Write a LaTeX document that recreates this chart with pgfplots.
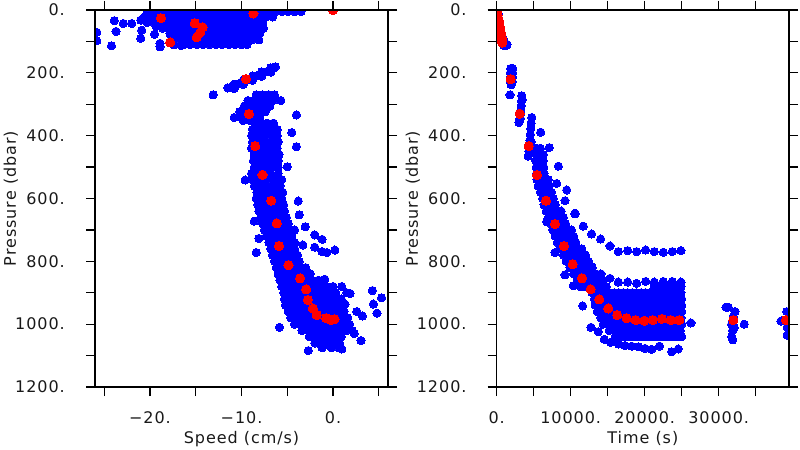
\documentclass[border=0pt]{standalone}
\usepackage{fontspec}
\setmainfont{DejaVu Sans}[LetterSpace=6]
\usepackage{pgfplots}
\pgfplotsset{compat=1.18}
\definecolor{pblue}{RGB}{0,0,255}
\definecolor{pred}{RGB}{255,0,0}
\pgfplotsset{
  panel/.style={
    scale only axis, width=293bp, height=377bp,
    ymin=0, ymax=1200, y dir=reverse,
    scaled x ticks=false, scaled y ticks=false,
    clip marker paths=true, axis on top,
    axis line style={line width=1.3bp, black},
    tick style={line width=1.3bp, black},
    tick align=outside, major tick length=9bp,
    xtick pos=both, ytick pos=both,
    ytick={0,100,...,1200},
    yticklabels={0.,,200.,,400.,,600.,,800.,,1000.,,1200.},
    tick label style={font=\fontsize{16bp}{19bp}\selectfont, text=black!90},
    label style={font=\fontsize{16bp}{19bp}\selectfont, text=black!90},
    xticklabel style={inner sep=0pt, anchor=north, yshift=-15bp},
    yticklabel style={inner sep=0pt, anchor=east, xshift=-21bp},
    ylabel={Pressure (dbar)},
    ylabel style={at={(axis description cs:-0.27,0.5)}, anchor=base},
    xlabel style={at={(axis description cs:0.5,-0.151)}, anchor=base},
  },
  bluedots/.style={only marks, color=pblue, mark=*, mark size=4.1bp, mark options={draw=pblue, fill=pblue, line width=0pt}},
  reddots/.style={only marks, color=pred, mark=*, mark size=4.6bp, mark options={draw=pred, fill=pred, line width=0pt}},
}
\begin{document}
\begin{tikzpicture}
\useasboundingbox (0bp,0bp) rectangle (800bp,450bp);
\begin{axis}[panel, at={(241.5bp,251.5bp)}, anchor=center,
  xmin=-26, xmax=6,
  xtick={-25,-20,...,5}, xticklabels={,−20.,,−10.,,0.,},
  xlabel={Speed (cm/s)}]
\addplot[bluedots] coordinates {
(-20.3,5)(-19.6,5)(-18.9,5)(-18.2,5)(-17.5,5)(-16.8,5)(-16.1,5)(-15.4,5)(-14.7,5)(-14,5)(-13.3,5)(-12.6,5)(-11.9,5)(-11.2,5)(-10.5,5)(-9.8,5)(-9.1,5)(-8.4,5)(-7.7,5)(-7,5)(-6.3,5)(-5.6,5)(-4.9,5)(-4.2,5)(-3.5,5)
(-20.6,22)(-19.9,22)(-19.2,22)(-18.5,22)(-17.8,22)(-17.1,22)(-16.4,22)(-15.7,22)(-15,22)(-14.3,22)(-13.6,22)(-12.9,22)(-12.2,22)(-11.5,22)(-10.8,22)(-10.1,22)(-9.4,22)(-8.7,22)(-8,22)(-7.3,22)(-6.6,22)
(-20.3,40)(-19.6,40)(-18.9,40)(-18.2,40)(-17.5,40)(-16.8,40)(-16.1,40)(-15.4,40)(-14.7,40)(-14,40)(-13.3,40)(-12.6,40)(-11.9,40)(-11.2,40)(-10.5,40)(-9.8,40)(-9.1,40)(-8.4,40)(-7.7,40)
(-18.6,58)(-17.9,58)(-17.2,58)(-16.5,58)(-15.8,58)(-15.1,58)(-14.4,58)(-13.7,58)(-13,58)(-12.3,58)(-11.6,58)(-10.9,58)(-10.2,58)(-9.5,58)(-8.8,58)(-8.1,58)(-7.6,58)
(-17.8,76)(-17.1,76)(-16.4,76)(-15.7,76)(-15,76)(-14.3,76)(-13.6,76)(-12.9,76)(-12.2,76)(-11.5,76)(-10.8,76)(-10.1,76)(-9.4,76)(-8.7,76)(-8.1,76)
(-17.2,94)(-16.5,94)(-15.8,94)(-15.1,94)(-14.4,94)(-13.7,94)(-13,94)(-12.3,94)(-11.6,94)(-10.9,94)(-10.2,94)(-9.5,94)(-8.8,94)
(-16.3,110)(-15.6,110)(-14.9,110)(-14.2,110)(-13.5,110)(-12.8,110)(-12.1,110)(-11.4,110)(-10.7,110)(-10,110)(-9.4,110)
(-25.8,71)(-25.8,98)(-24.2,114)(-23.9,34)(-23.7,68)(-22.9,43)(-22,43)(-21,32)(-20.9,64)(-21,90)(-19.5,77)(-18.9,106)(-18.9,117)(-17.4,111)(-16.6,113)(-8,74)(-8.1,95)(-19.3,52)
(-11.5,248)(-11,243)(-10.5,236)(-10,231)(-9.5,224)(-9,218)(-8.5,212)(-8,205)(-7.5,199)(-7,192)(-6.5,186)(-6.3,181)(-10.8,236)(-9.8,223)(-8.8,210)(-7.8,197)(-6.8,184)(-10.8,250)(-9.8,237)(-8.8,224)(-7.8,211)(-6.8,198)(-13.1,270)
(-8.4,270)(-7.7,270)(-7,270)(-6.4,270)(-9.3,288)(-8.6,288)(-7.9,288)(-7.2,288)(-6.5,288)(-9.7,306)(-9,306)(-8.3,306)(-7.6,306)(-6.9,306)(-10.2,324)(-9.5,324)(-8.8,324)(-8.1,324)(-7.4,324)(-10.8,342)(-10.1,342)(-9.4,342)(-8.7,342)(-8,342)(-9.8,352)(-9.1,352)(-5.7,288)(-4,334)
(-8.6,360)(-7.9,360)(-7.2,360)(-6.5,360)
(-8.8,380)(-8.1,380)(-7.4,380)(-6.7,380)(-6.1,380)
(-8.9,400)(-8.2,400)(-7.5,400)(-6.8,400)(-6.1,400)
(-8.8,420)(-8.1,420)(-7.4,420)(-6.7,420)(-6,420)
(-8.9,440)(-8.2,440)(-7.5,440)(-6.8,440)(-6.1,440)
(-8.6,460)(-7.9,460)(-7.2,460)(-6.5,460)(-5.9,460)
(-8.7,480)(-8,480)(-7.3,480)(-6.6,480)(-6,480)
(-8.6,500)(-7.9,500)(-7.2,500)(-6.5,500)(-6,500)
(-8.9,520)(-8.2,520)(-7.5,520)(-6.8,520)(-6,520)
(-8.8,540)(-8.1,540)(-7.4,540)(-6.7,540)(-6,540)(-5.6,540)
(-8.6,560)(-7.9,560)(-7.2,560)(-6.5,560)(-5.8,560)
(-8.3,580)(-7.6,580)(-6.9,580)(-6.2,580)(-5.5,580)
(-8.4,600)(-7.7,600)(-7,600)(-6.3,600)(-5.6,600)
(-8.2,620)(-7.5,620)(-6.8,620)(-6.1,620)(-5.4,620)
(-8.1,640)(-7.4,640)(-6.7,640)(-6,640)(-5.3,640)
(-7.9,660)(-7.2,660)(-6.5,660)(-5.8,660)(-5.1,660)
(-7.7,680)(-7,680)(-6.3,680)(-5.6,680)(-4.9,680)
(-7.5,700)(-6.8,700)(-6.1,700)(-5.4,700)(-4.7,700)(-4.2,700)
(-7.3,720)(-6.6,720)(-5.9,720)(-5.2,720)(-4.5,720)
(-7,740)(-6.3,740)(-5.6,740)(-4.9,740)(-4.2,740)
(-6.8,760)(-6.1,760)(-5.4,760)(-4.7,760)(-4.2,760)
(-6.6,780)(-5.9,780)(-5.2,780)(-4.5,780)(-3.9,780)
(-6.4,800)(-5.7,800)(-5,800)(-4.3,800)(-3.7,800)
(-6.2,820)(-5.5,820)(-4.8,820)(-4.1,820)(-3.4,820)(-3,820)
(-6,840)(-5.3,840)(-4.6,840)(-3.9,840)(-3.2,840)(-2.5,840)
(-5.8,860)(-5.1,860)(-4.4,860)(-3.7,860)(-3,860)(-2.3,860)(-1.6,860)(-1.1,860)
(-5.6,880)(-4.9,880)(-4.2,880)(-3.5,880)(-2.8,880)(-2.1,880)(-1.4,880)(-0.7,880)(0,880)
(-5.4,900)(-4.7,900)(-4,900)(-3.3,900)(-2.6,900)(-1.9,900)(-1.2,900)(-0.5,900)(0.3,900)
(-5.3,920)(-4.6,920)(-3.9,920)(-3.2,920)(-2.5,920)(-1.8,920)(-1.1,920)(-0.4,920)(0.3,920)(0.9,920)
(-5.2,940)(-4.5,940)(-3.8,940)(-3.1,940)(-2.4,940)(-1.7,940)(-1,940)(-0.3,940)(0.4,940)(1.1,940)
(-4.9,960)(-4.2,960)(-3.5,960)(-2.8,960)(-2.1,960)(-1.4,960)(-0.7,960)(0,960)(0.7,960)(1.2,960)
(-4.6,980)(-3.9,980)(-3.2,980)(-2.5,980)(-1.8,980)(-1.1,980)(-0.4,980)(0.3,980)(1,980)(1.6,980)
(-4.2,1000)(-3.5,1000)(-2.8,1000)(-2.1,1000)(-1.4,1000)(-0.7,1000)(0,1000)(0.7,1000)(1.4,1000)(1.8,1000)
(-3.4,1020)(-2.7,1020)(-2,1020)(-1.3,1020)(-0.6,1020)(0.1,1020)(0.8,1020)(1.5,1020)(2.1,1020)
(-2.6,1040)(-1.9,1040)(-1.2,1040)(-0.5,1040)(0.2,1040)(0.9,1040)
(-2,1060)(-1.3,1060)(-0.6,1060)(0.1,1060)(0.7,1060)
(-1.2,1075)(-0.2,1075)(0.6,1075)
(-4.5,390)(-4,435)(-9.6,541)(-5,499)(-3.8,608)(-3.7,652)(-8.6,672)(-3.05,690)(-2,716)(-1.2,730)(-8.1,727)(-8.4,772)(-3.3,748)(-2,755)(-1.2,769)(-0.7,772)(0.2,764)(-0.9,857)(1.5,900)(4.3,893)(5.3,916)(1.85,902)(0.95,880)(-5.85,1010)(-2.7,1084)(4.4,936)(4.8,965)(3.2,974)(3.05,1052)(0.95,1079)(1.3,936)(2.6,960)(2.3,1030)
};
\addplot[reddots] coordinates {
(-18.8,26)(-17.8,103)(-15.1,42)(-14.25,55)(-14.5,71)(-14.9,87)(-8.7,11)(0,0)(-9.5,220)(-9.2,331)(-8.5,433)(-7.7,525)(-6.76,607)(-6.14,679)(-5.9,751)(-4.87,812)(-3.6,854)(-2.94,889)(-2.76,923)(-2.2,950)(-1.78,971)(-0.76,981)(-0.2,987)(0.15,984)
};
\end{axis}
\begin{axis}[panel, at={(642.85bp,251.5bp)}, anchor=center,
  width=292.3bp,
  xmin=0, xmax=39500,
  xtick={0,5000,...,35000}, xticklabels={0.,,10000.,,20000.,,30000.,},
  xlabel={Time (s)}]
\addplot[bluedots] coordinates {
(60,3)(150,14)(240,26)(330,38)(420,50)(510,62)(600,74)(690,86)(780,97)(870,106)(960,112)(1100,114)(1250,113)(1400,110)(200,12)(380,36)(560,60)(740,84)(920,104)(1050,100)
(1900,186)(2150,186)(1850,200)(2150,200)(1850,214)(2150,214)(1850,228)(2100,228)(1950,238)(2000,195)(2000,222)(1800,270)
(3400,273)(3350,290)(3300,305)(3250,320)(3150,335)(3050,350)(3000,358)(3450,285)(3200,345)
(4750,342)(4650,360)(4600,378)(4550,396)(4500,414)(4400,432)(4350,450)(4250,465)(4500,445)(4650,420)
(5940,389)(7100,438)
(5400,440)(5900,440)
(5350,460)(5850,460)(6300,460)
(5300,480)(5800,480)(6300,480)
(5350,500)(5850,500)(6350,500)
(5400,520)(5900,520)(6400,520)
(5450,540)(5950,540)(6450,540)(6950,540)
(5600,560)(6100,560)(6600,560)(7100,560)
(5900,580)(6400,580)(6900,580)(7400,580)
(6200,600)(6700,600)(7200,600)(7650,600)
(6400,620)(6900,620)(7400,620)(7900,620)
(6700,640)(7200,640)(7700,640)(8200,640)(8700,640)
(7000,660)(7500,660)(8000,660)(8500,660)(9000,660)
(7300,680)(7800,680)(8300,680)(8800,680)(9300,680)
(7600,700)(8100,700)(8600,700)(9100,700)(9600,700)(10100,700)
(7900,720)(8400,720)(8900,720)(9400,720)(9900,720)(10400,720)
(8200,740)(8700,740)(9200,740)(9700,740)(10200,740)(10700,740)
(8600,760)(9100,760)(9600,760)(10100,760)(10600,760)(11100,760)(11500,760)
(9000,780)(9500,780)(10000,780)(10500,780)(11000,780)(11500,780)(12000,780)
(9400,800)(9900,800)(10400,800)(10900,800)(11400,800)(11900,800)(12400,800)
(9900,820)(10400,820)(10900,820)(11400,820)(11900,820)(12400,820)(12900,820)
(10400,840)(10900,840)(11400,840)(11900,840)(12400,840)(12900,840)(13400,840)
(10900,860)(11400,860)(11900,860)(12400,860)(12900,860)(13400,860)(13900,860)(14300,860)
(11300,880)(11800,880)(12300,880)(12800,880)(13300,880)(13800,880)(14300,880)(14800,880)
(21300,880)(21900,880)(22500,880)(23100,880)(23700,880)(24300,880)(24900,880)
(12900,900)(13500,900)(14100,900)(14700,900)(15300,900)(15900,900)(16500,900)(17100,900)(17700,900)(18300,900)(18900,900)(19500,900)(20100,900)(20700,900)(21300,900)(21900,900)(22500,900)(23100,900)(23700,900)(24300,900)(24900,900)
(13200,920)(13800,920)(14400,920)(15000,920)(15600,920)(16200,920)(16800,920)(17400,920)(18000,920)(18600,920)(19200,920)(19800,920)(20400,920)(21000,920)(21600,920)(22200,920)(22800,920)(23400,920)(24000,920)(24600,920)(25000,920)
(13300,940)(13900,940)(14500,940)(15100,940)(15700,940)(16300,940)(16900,940)(17500,940)(18100,940)(18700,940)(19300,940)(19900,940)(20500,940)(21100,940)(21700,940)(22300,940)(22900,940)(23500,940)(24100,940)(24700,940)(25000,940)
(13600,960)(14200,960)(14800,960)(15400,960)(16000,960)(16600,960)(17200,960)(17800,960)(18400,960)(19000,960)(19600,960)(20200,960)(20800,960)(21400,960)(22000,960)(22600,960)(23200,960)(23800,960)(24400,960)(25000,960)
(14100,980)(14700,980)(15300,980)(15900,980)(16500,980)(17100,980)(17700,980)(18300,980)(18900,980)(19500,980)(20100,980)(20700,980)(21300,980)(21900,980)(22500,980)(23100,980)(23700,980)(24300,980)(24900,980)
(14400,1000)(15000,1000)(15600,1000)(16200,1000)(16800,1000)(17400,1000)(18000,1000)(18600,1000)(19200,1000)(19800,1000)(20400,1000)(21000,1000)(21600,1000)(22200,1000)(22800,1000)(23400,1000)(24000,1000)(24600,1000)(25000,1000)
(15200,1020)(15800,1020)(16400,1020)(17000,1020)(17600,1020)(18200,1020)(18800,1020)(19400,1020)(20000,1020)(20600,1020)(21200,1020)(21800,1020)(22400,1020)(23000,1020)(23600,1020)(24200,1020)(24800,1020)
(16000,1040)(16600,1040)(17200,1040)(17800,1040)(18400,1040)(19000,1040)(19600,1040)(20200,1040)(20800,1040)(21400,1040)(22000,1040)(22600,1040)(23200,1040)(23800,1040)(24400,1040)(25000,1040)
(12830,817)(14090,840)(15310,854)(16430,866)(17700,866)(18910,870)(20130,864)(21290,866)(22510,864)(23720,864)(24900,866)
(10580,649)(11700,688)(12830,713)(14050,729)(15310,751)(16430,769)(17700,766)(18910,769)(20130,764)(21290,769)(22510,771)(23720,769)(24900,766)
(11620,942)(12740,1010)(13730,1024)(14540,1048)(15400,1058)(16430,1063)(17330,1068)(18240,1070)(19130,1072)(20040,1077)(20940,1080)(22000,1070)(23640,1088)(24540,1079)
(26250,996)(9230,843)(10350,878)(7880,772)(6750,674)(8330,497)(8100,552)(9460,573)(9230,607)(10580,647)
(31290,946)(30980,946)(32200,960)(31970,975)(31750,1000)(31880,1020)(31750,1040)(32100,1010)(33450,1000)(31900,1050)
(38420,990)(39200,960)(39200,985)(39250,1010)(39250,1035)
};
\addplot[reddots] coordinates {
(0,0)(60,8)(130,17)(200,26)(270,35)(340,44)(410,53)(480,62)(550,71)(620,80)(680,89)(730,97)(760,104)
(1890,220)(3100,330)(4320,433)(5450,525)(6660,607)(7880,681)(9090,751)(10270,809)(11520,854)(12700,889)(13860,921)(15080,950)(16290,971)(17560,981)(18780,987)(19940,989)(21080,987)(22330,983)(23510,987)(24670,987)(31970,987)(39090,987)
};
\end{axis}
\end{tikzpicture}
\end{document}
